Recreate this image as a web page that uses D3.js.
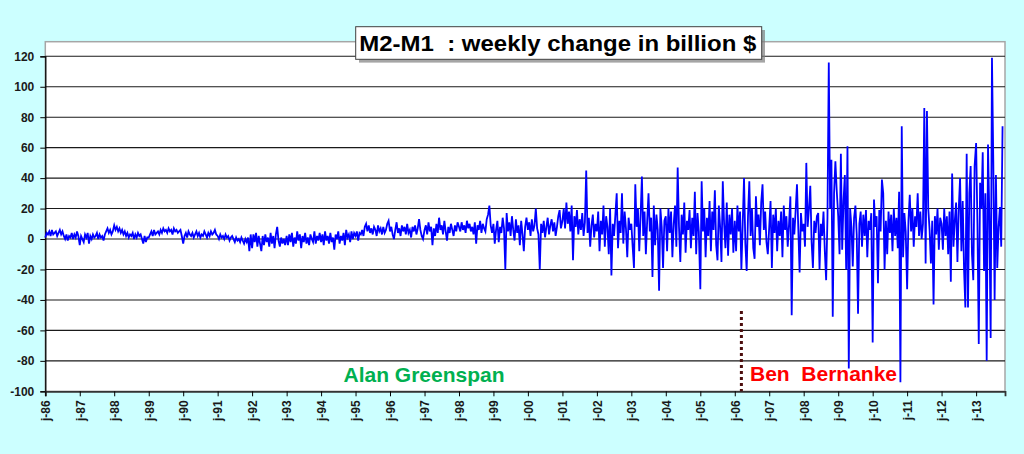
<!DOCTYPE html>
<html>
<head>
<meta charset="utf-8">
<script src="https://cdn.jsdelivr.net/npm/d3@7"></script>
<style>
html,body{margin:0;padding:0;background:#ccffff;}
svg{display:block;}
</style>
</head>
<body>
<svg id="chart" width="1024" height="454"></svg>
<script>
// ---- data (weekly change of M2-M1, billion $, sampled every two weeks) ----
const years = [1986,1987,1988,1989,1990,1991,1992,1993,1994,1995,1996,1997,1998,1999,2000,2001,2002,2003,2004,2005,2006,2007,2008,2009,2010,2011,2012,2013];
const v1986 = [1,4,3,5,2,6,3,4,5,2,4,6,3,5,2,0,3,-1,2,1,4,0,3,1,5,2];
const v1987 = [-4,2,0,-2,3,1,4,-3,2,0,3,1,2,4,0,3,1,2,-1,3,5,7,4,6,3,5];
const v1988 = [9,6,8,5,7,4,6,3,5,2,4,1,3,2,4,0,3,1,4,2,3,0,-3,2,-2,1];
const v1989 = [1,3,5,2,6,3,4,5,3,6,4,7,5,6,4,7,5,6,3,7,5,6,4,5,6,2];
const v1990 = [-3,2,4,1,5,3,2,4,1,3,5,2,4,1,3,2,5,3,1,4,2,5,3,4,6,3];
const v1991 = [2,0,3,1,2,0,3,1,2,-1,1,2,0,-2,1,-1,0,-2,1,-1,-3,0,-2,1,-8,3];
const v1992 = [-6,3,-2,4,-5,2,-3,-8,2,-4,3,-2,1,-5,4,-3,2,-6,3,8,-1,-5,1,-3,0,-4];
const v1993 = [2,-4,3,-2,4,-5,1,-3,5,-1,3,-6,2,-2,4,-3,1,-4,3,0,-2,5,-3,2,-1,4];
const v1994 = [-2,3,-4,5,-1,2,-3,4,-2,1,-7,3,0,5,-3,2,-1,4,-4,6,1,3,-2,5,0,4];
const v1995 = [2,5,-1,4,3,6,2,8,10,5,9,4,7,3,8,6,2,9,5,7,3,8,4,6,10,12];
const v1996 = [5,8,3,0,6,11,4,7,2,9,5,8,3,10,4,6,1,8,5,9,3,7,13,6,2,0];
const v1997 = [6,9,3,11,5,8,-4,7,2,10,4,14,6,9,3,12,5,-1,8,4,10,6,2,9,5,11];
const v1998 = [8,5,11,6,9,4,12,7,10,5,8,3,11,-3,9,6,12,4,10,7,5,13,16,22,9,4];
const v1999 = [10,-3,6,12,-2,8,4,14,7,-20,17,5,11,2,15,6,-1,13,4,9,-4,12,3,-8,8,14];
const v2000 = [6,11,2,13,5,9,20,7,3,-20,10,4,12,1,8,14,3,9,13,5,11,2,8,15,19,7];
const v2001 = [12,20,7,24,10,18,5,22,-14,15,8,19,3,13,6,17,2,11,45,4,14,-5,9,16,1,10];
const v2002 = [5,18,-8,12,3,22,-5,15,8,-10,20,-24,10,2,16,30,-6,12,4,30,-3,18,7,-12,14,6];
const v2003 = [10,-5,-19,36,8,20,-8,15,41,2,18,-10,12,30,5,14,-25,22,-4,16,6,-34,20,8,-19,12];
const v2004 = [15,-8,20,4,18,-12,10,22,-5,47,8,-15,16,3,24,-9,12,6,19,-6,14,2,31,-10,17,5];
const v2005 = [-33,38,5,20,-12,14,2,25,-8,18,6,32,-4,-14,22,8,-15,38,10,-6,24,-11,16,3,20,-9];
const v2006 = [12,-8,22,5,18,-20,10,40,-3,-21,15,38,2,20,-6,-13,28,8,16,-4,24,36,6,18,-2,-10];
const v2007 = [8,25,-19,16,4,20,-8,12,2,18,-12,22,6,15,-5,10,28,-50,14,3,19,36,7,-22,17,5];
const v2008 = [10,-5,50,8,20,35,-2,-19,12,4,15,17,-20,10,2,18,-8,-27,14,116,20,52,-51,30,51,32];
const v2009 = [15,-10,56,-7,25,42,-20,61,-85,20,8,-18,14,22,3,-49,10,18,-5,16,2,19,-12,12,6,17];
const v2010 = [-68,26,8,15,-29,19,5,39,30,-20,12,-10,18,4,16,-8,20,2,14,-6,31,-94,74,-12,17,5];
const v2011 = [-33,12,29,5,20,-5,15,8,30,2,18,0,10,86,-16,84,20,6,-16,12,-43,15,3,20,-7,14];
const v2012 = [10,-7,20,2,15,-10,18,-28,43,-5,12,24,-15,20,40,-8,25,-20,-45,56,-45,30,48,-10,-27,48];
const v2013 = [63,10,-69,37,20,57,-21,30,-80,62,15,-65,119,51,-40,42,-19,8,21,-5,74];
const valuesByYear = [v1986,v1987,v1988,v1989,v1990,v1991,v1992,v1993,v1994,v1995,v1996,v1997,v1998,v1999,v2000,v2001,v2002,v2003,v2004,v2005,v2006,v2007,v2008,v2009,v2010,v2011,v2012,v2013];

const yTicks = [-100,-80,-60,-40,-20,0,20,40,60,80,100,120];
const xTickYears = [1986,1987,1988,1989,1990,1991,1992,1993,1994,1995,1996,1997,1998,1999,2000,2001,2002,2003,2004,2005,2006,2007,2008,2009,2010,2011,2012,2013];
const xTickLabels = ["j-86","j-87","j-88","j-89","j-90","j-91","j-92","j-93","j-94","j-95","j-96","j-97","j-98","j-99","j-00","j-01","j-02","j-03","j-04","j-05","j-06","j-07","j-08","j-09","j-10","j-11","j-12","j-13"];
const titleText = "M2-M1  : weekly change in billion $";
const greenspanLabel = "Alan Greenspan";
const bernankeLabel = "Ben  Bernanke";
const bernankeStart = new Date(2006, 2, 12);

(function () {
// ---- build series ----
const series = [];
years.forEach((yr, k) => {
  valuesByYear[k].forEach((v, i) => {
    series.push({date: new Date(yr, 0, 1 + 14 * i), value: v});
  });
});

// ---- layout ----
const svg = d3.select("#chart");
const pLeft = 45.3, pRight = 1005, pTop = 41.7, pBottom = 391.3;
const FONT = "'Liberation Sans', Arial, sans-serif";

const x = d3.scaleTime()
  .domain([new Date(1986, 0, 1), new Date(2013, 10, 3)])
  .range([pLeft, pRight]);
const y = d3.scaleLinear().domain([-100, 120]).range([pBottom, 56.3]);

svg.append("rect").attr("width", 1024).attr("height", 454).attr("fill", "#ccffff");

// plot area
svg.append("rect")
  .attr("x", pLeft).attr("y", pTop)
  .attr("width", pRight - pLeft).attr("height", pBottom - pTop)
  .attr("fill", "#ffffff").attr("stroke", "#a6a6a6").attr("stroke-width", 1.5);

// gridlines
svg.append("g").selectAll("line").data(yTicks.filter(d => d !== -100)).join("line")
  .attr("x1", pLeft).attr("x2", pRight)
  .attr("y1", d => y(d)).attr("y2", d => y(d))
  .attr("stroke", "#1a1a1a").attr("stroke-width", 1.1);

// y axis
const yAxis = svg.append("g").attr("transform", `translate(${pLeft},0)`)
  .call(d3.axisLeft(y).tickValues(yTicks).tickSize(5).tickPadding(6).tickFormat(d => d));
yAxis.select(".domain").attr("stroke", "#000").attr("stroke-width", 1.3);
yAxis.selectAll(".tick line").attr("stroke", "#000");
yAxis.selectAll("text").attr("font-family", FONT).attr("font-size", 12)
  .attr("font-weight", "bold").attr("fill", "#1a1a1a");

// x axis
const xTickDates = xTickYears.map(yr => new Date(yr, 0, 1));
const xAxis = svg.append("g").attr("transform", `translate(0,${pBottom})`)
  .call(d3.axisBottom(x).tickValues(xTickDates).tickSize(5)
    .tickFormat((d, i) => xTickLabels[i]));
xAxis.select(".domain").attr("stroke", "#333").attr("stroke-width", 1.8);
xAxis.selectAll(".tick line").attr("stroke", "#000");
xAxis.selectAll("text")
  .attr("font-family", FONT).attr("font-size", 12).attr("font-weight", "bold")
  .attr("fill", "#1a1a1a")
  .attr("text-anchor", "end")
  .attr("transform", "rotate(-90)")
  .attr("x", -9).attr("y", 0).attr("dy", "0.36em");

// data line
const line = d3.line().x(d => x(d.date)).y(d => y(d.value));
svg.append("path").datum(series)
  .attr("d", line)
  .attr("fill", "none").attr("stroke", "#0000ff").attr("stroke-width", 1.8)
  .attr("stroke-linejoin", "miter");

// Bernanke marker
svg.append("line")
  .attr("x1", x(bernankeStart)).attr("x2", x(bernankeStart))
  .attr("y1", 311).attr("y2", pBottom)
  .attr("stroke", "#4b0d0d").attr("stroke-width", 3)
  .attr("stroke-dasharray", "3,3");

svg.append("text").attr("x", 343.5).attr("y", 381.5)
  .attr("font-family", FONT).attr("font-size", 21).attr("font-weight", "bold")
  .attr("fill", "#00b050").text(greenspanLabel);

svg.append("text").attr("x", 750).attr("y", 380.7)
  .style("white-space", "pre")
  .attr("font-family", FONT).attr("font-size", 21).attr("font-weight", "bold")
  .attr("fill", "#ff0000").text(bernankeLabel);

// title box
svg.append("rect").attr("x", 359).attr("y", 30).attr("width", 406).attr("height", 32.6)
  .attr("fill", "#7f7f7f").attr("opacity", 0.7);
svg.append("rect").attr("x", 355.7).attr("y", 26.7).attr("width", 406).attr("height", 32.6)
  .attr("fill", "#ffffff").attr("stroke", "#404040").attr("stroke-width", 1);
svg.append("text").attr("x", 359.3).attr("y", 50.5)
  .style("white-space", "pre")
  .attr("font-family", FONT).attr("font-size", 22).attr("font-weight", "bold")
  .attr("fill", "#000").attr("textLength", 397).attr("lengthAdjust", "spacingAndGlyphs")
  .text(titleText);
})();
</script>
</body>
</html>
